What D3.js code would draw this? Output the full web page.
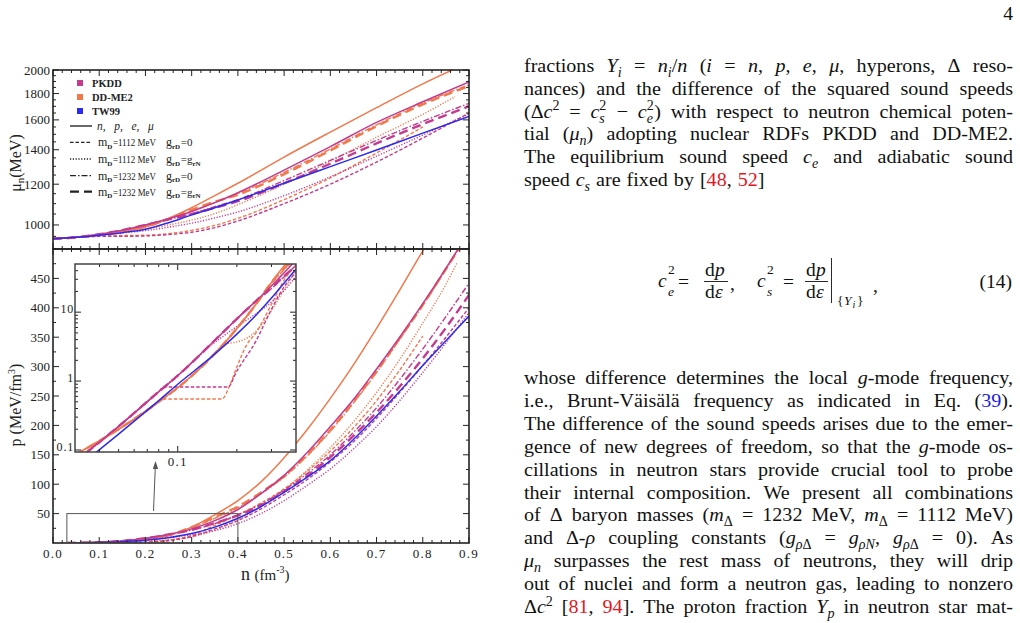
<!DOCTYPE html>
<html><head><meta charset="utf-8">
<script src="https://cdn.jsdelivr.net/npm/d3@7"></script>
<style>
body{margin:0;background:#fff;}
svg text{white-space:pre;}
</style></head><body>
<svg id="c" width="1020" height="623"></svg>
<script>
// ---------------- DATA ----------------
// top panel: neutron chemical potential mu_n (MeV) vs n (fm^-3)
const nMu = [0,0.05,0.1,0.15,0.2,0.25,0.3,0.35,0.4,0.5,0.6,0.7,0.8,0.9];
const nMuShort = [0,0.05,0.1,0.15,0.2,0.25,0.3,0.35,0.4,0.5,0.6,0.7,0.8];
const nMuDot = [0,0.05,0.1,0.15,0.2,0.25,0.3,0.35,0.4,0.5,0.6,0.7,0.8,0.87];
const muTW99 = [940,946,955,966,981,1010,1046,1080,1118,1205,1298,1398,1508,1625];
const muPKDD = [940,946,959,977,1000,1028,1062,1105,1155,1278,1420,1582,1735,1895];
const muDDME2 = [940,946,957,972,992,1030,1080,1140,1205,1355,1515,1690,1880,2070];
const muPKDD_1112_0 = [940,946,950,950,952,958,968,988,1018,1100,1200,1325,1475,1650];
const muPKDD_1112_N = [940,946,956,965,975,990,1008,1032,1060,1140,1240,1360,1495,1642];
const muPKDD_1232_0 = [940,946,959,977,1000,1025,1052,1085,1120,1220,1335,1460,1590,1723];
const muPKDD_1232_N = [940,946,959,977,1000,1025,1050,1080,1112,1205,1315,1440,1570,1700];
const muDDME2_1112_0 = [940,946,952,954,955,962,976,998,1030,1120,1235,1380,1550];
const muDDME2_1112_N = [940,946,957,970,982,1000,1022,1052,1095,1200,1330,1480,1640,1776];
const muDDME2_1232_0 = [940,946,957,972,992,1025,1065,1105,1150,1265,1405,1565,1725,1872];
const muDDME2_1232_N = [940,946,957,972,992,1028,1070,1110,1145,1255,1395,1555,1715,1862];

// bottom panel: pressure p (MeV/fm^3) vs n (fm^-3)
const nP = [0.03,0.05,0.08,0.1,0.15,0.2,0.25,0.3,0.35,0.4,0.45,0.5,0.55,0.6,0.65,0.7,0.75,0.8,0.85,0.9];
const pTW99 = [0.052,0.17,0.52,0.9,2.3,4.8,9,16,27,42,62,86,112,140,176,216,258,302,344,386];
const pPKDD = [0.068,0.22,0.70,1.2,3.6,8,14.5,24,38,57,84,115,154,198,244,296,350,407,467,530];
const pDDME2 = [0.085,0.2,0.5,0.8,2.3,5.8,13,27,48,72,104,145,193,246,303,365,430,497,565,640];
const nP_PKDD_1112_0 = [0.03,0.05,0.08,0.085,0.18,0.2,0.25,0.3,0.35,0.4,0.45,0.5,0.55,0.6,0.65,0.7,0.75,0.8,0.85,0.9];
const pPKDD_1112_0 = [0.068,0.22,0.70,0.82,0.82,1.4,3.8,11,24,38,58,82,108,138,172,212,256,302,350,400];
const pPKDD_1112_N = [0.068,0.22,0.70,1.2,3.4,6.2,9.5,14,21,33,50,72,98,126,160,198,242,290,340,392];
const pPKDD_1232_0 = [0.068,0.22,0.70,1.2,3.6,8,14.5,22,33,48,66,90,118,150,188,230,278,330,385,442];
const pPKDD_1232_N = [0.068,0.22,0.70,1.2,3.6,8,14.5,22.5,34,47,64,88,114,146,182,222,266,314,366,422];
const nP_DDME2_1112_0 = [0.03,0.05,0.08,0.083,0.168,0.185,0.2,0.225,0.25,0.3,0.35,0.4,0.45,0.5,0.55,0.6,0.65,0.7,0.75,0.8];
const pDDME2_1112_0 = [0.085,0.2,0.5,0.55,0.55,0.9,1.6,3.4,5,13,30,48,68,92,122,156,196,242,294,352];
const nP_DDME2_1112_N = [0.03,0.05,0.08,0.1,0.15,0.171,0.2,0.225,0.25,0.3,0.35,0.4,0.45,0.5,0.55,0.6,0.65,0.7,0.75,0.8,0.85,0.875];
const pDDME2_1112_N = [0.085,0.2,0.5,0.8,2.3,3.4,3.7,4.2,5.3,10.5,22,40,62,90,124,162,206,256,312,374,440,478];
const pDDME2_1232_0 = [0.085,0.2,0.5,0.8,2.3,5.8,13,26,42,60,84,112,148,190,238,290,346,404,465,528];
const pDDME2_1232_N = [0.085,0.2,0.5,0.8,2.3,5.8,13,27,44,62,86,114,150,192,240,292,348,405,466,528];

// ticks / labels
const xTickVals = [0,0.1,0.2,0.3,0.4,0.5,0.6,0.7,0.8,0.9];
const xTickLabels = ['0.0','0.1','0.2','0.3','0.4','0.5','0.6','0.7','0.8','0.9'];
const muTickVals = [1000,1200,1400,1600,1800,2000];
const pTickVals = [50,100,150,200,250,300,350,400,450];
const insetYTicks = [0.1,1,10];
const insetYLabels = ['0.1','1','10'];
const insetXTicks = [0.1];
const legendModels = ['PKDD','DD-ME2','TW99'];
const zoomBox = {n0:0.03, n1:0.4, p0:0, p1:50};

// ---------------- SETUP ----------------
const svg = d3.select('#c');
svg.append('rect').attr('width',1020).attr('height',623).attr('fill','#fff');
const SERIF = "'Liberation Serif','Times New Roman',serif";
const COL = {PKDD:'#c43a8e', DDME2:'#f2784b', TW99:'#2b2bf0'};
const STY = {
  solid:{dash:null,w:1.5},
  d1112_0:{dash:'3.5,2',w:1.4},
  d1112_N:{dash:'1.2,1.6',w:1.4},
  d1232_0:{dash:'6,2,1.5,2',w:1.4},
  d1232_N:{dash:'9,5',w:2.4}
};

const x = d3.scaleLinear().domain([0,0.9]).range([53,469]);
const yMu = d3.scaleLog().domain([898,2000]).range([249,70]);
const yP = d3.scaleLinear().domain([0,500]).range([543,249]);
const xi = d3.scaleLog().domain([0.03,0.4]).range([75,296]);
const yi = d3.scaleLog().domain([0.0935,50]).range([452,264]);

const defs = svg.append('defs');
function clip(id,x0,y0,x1,y1){defs.append('clipPath').attr('id',id).append('rect').attr('x',x0).attr('y',y0).attr('width',x1-x0).attr('height',y1-y0);}
clip('cTop',x(0),yMu(2000),x(0.9),yMu(898));
clip('cBot',x(0),yP(500),x(0.9),yP(0));
clip('cIn',xi(0.03),yi(50),xi(0.4),yi(0.0935));

const muSeries = [
  {c:'DDME2',s:'d1112_0',n:nMuShort,v:muDDME2_1112_0},
  {c:'DDME2',s:'d1112_N',n:nMuDot,v:muDDME2_1112_N},
  {c:'DDME2',s:'d1232_0',n:nMu,v:muDDME2_1232_0},
  {c:'DDME2',s:'d1232_N',n:nMu,v:muDDME2_1232_N},
  {c:'PKDD',s:'d1112_0',n:nMu,v:muPKDD_1112_0},
  {c:'PKDD',s:'d1112_N',n:nMu,v:muPKDD_1112_N},
  {c:'PKDD',s:'d1232_0',n:nMu,v:muPKDD_1232_0},
  {c:'PKDD',s:'d1232_N',n:nMu,v:muPKDD_1232_N},
  {c:'DDME2',s:'solid',n:nMu,v:muDDME2},
  {c:'PKDD',s:'solid',n:nMu,v:muPKDD},
  {c:'TW99',s:'solid',n:nMu,v:muTW99}
];
const pSeries = [
  {c:'DDME2',s:'d1112_0',n:nP_DDME2_1112_0,v:pDDME2_1112_0},
  {c:'DDME2',s:'d1112_N',n:nP_DDME2_1112_N,v:pDDME2_1112_N},
  {c:'DDME2',s:'d1232_0',n:nP,v:pDDME2_1232_0},
  {c:'DDME2',s:'d1232_N',n:nP,v:pDDME2_1232_N},
  {c:'PKDD',s:'d1112_0',n:nP_PKDD_1112_0,v:pPKDD_1112_0},
  {c:'PKDD',s:'d1112_N',n:nP,v:pPKDD_1112_N},
  {c:'PKDD',s:'d1232_0',n:nP,v:pPKDD_1232_0},
  {c:'PKDD',s:'d1232_N',n:nP,v:pPKDD_1232_N},
  {c:'DDME2',s:'solid',n:nP,v:pDDME2},
  {c:'PKDD',s:'solid',n:nP,v:pPKDD},
  {c:'TW99',s:'solid',n:nP,v:pTW99}
];

function drawSeries(g, list, sx, sy, clipId){
  const gg = g.append('g').attr('clip-path',`url(#${clipId})`);
  const line = d3.line().x(d=>sx(d[0])).y(d=>sy(d[1])).curve(d3.curveMonotoneX);
  list.forEach(s=>{
    const pts = s.n.map((n,i)=>[n,s.v[i]]);
    gg.append('path').attr('d',line(pts)).attr('fill','none')
      .attr('stroke',COL[s.c]).attr('stroke-width',STY[s.s].w)
      .attr('stroke-dasharray',STY[s.s].dash);
  });
}

function ticks(g, vals, sc, axis, pos, dir, len){
  g.selectAll(null).data(vals).join('line')
    .attr(axis==='x'?'x1':'y1',d=>sc(d)).attr(axis==='x'?'x2':'y2',d=>sc(d))
    .attr(axis==='x'?'y1':'x1',pos).attr(axis==='x'?'y2':'x2',pos+dir*len)
    .attr('stroke','#222').attr('stroke-width',1);
}
const xMinor = d3.range(46).map(i=>i*0.02).filter((d,i)=>i%5!==0);

// ---------------- TOP PANEL ----------------
const gTop = svg.append('g');
drawSeries(gTop, muSeries, x, yMu, 'cTop');
ticks(gTop, xTickVals, x, 'x', yMu(2000), 1, 6);
ticks(gTop, xMinor, x, 'x', yMu(2000), 1, 3);
ticks(gTop, xTickVals, x, 'x', yMu(898), -1, 6);
ticks(gTop, xMinor, x, 'x', yMu(898), -1, 3);
const muMinor = d3.range(900,2000,50).filter(d=>!muTickVals.includes(d));
[[x(0),1],[x(0.9),-1]].forEach(([px,dir])=>{
  ticks(gTop, muTickVals, yMu, 'y', px, dir, 6);
  ticks(gTop, muMinor, yMu, 'y', px, dir, 3);
});
gTop.selectAll(null).data(muTickVals).join('text')
  .attr('x',50).attr('y',d=>yMu(d)+4.5).attr('text-anchor','end')
  .attr('font-family',SERIF).attr('font-size',13).attr('fill','#222').text(d=>d);
gTop.append('rect').attr('x',x(0)).attr('y',yMu(2000)).attr('width',x(0.9)-x(0)).attr('height',yMu(898)-yMu(2000))
  .attr('fill','none').attr('stroke','#222').attr('stroke-width',1.6);
// y title
const muT = gTop.append('text').attr('transform','translate(21,163) rotate(-90)').attr('text-anchor','middle')
  .attr('font-family',SERIF).attr('font-size',16).attr('fill','#222');
muT.append('tspan').text('μ');
muT.append('tspan').attr('font-size',11).attr('dy',3).text('n');
muT.append('tspan').attr('dy',-3).text('(MeV)');

// legend
const colKeys = ['PKDD','DDME2','TW99'];
legendModels.forEach((m,i)=>{
  const yy = 83 + i*14;
  gTop.append('rect').attr('x',77).attr('y',yy-3).attr('width',6).attr('height',6).attr('fill',COL[colKeys[i]]);
  gTop.append('text').attr('x',92).attr('y',yy+4).attr('font-family',SERIF).attr('font-weight','bold')
    .attr('font-size',10.5).attr('fill','#222').text(m);
});
const legRows = [
  {s:'solid'},{s:'d1112_0',m:'=1112 MeV',g:'0'},{s:'d1112_N',m:'=1112 MeV',g:'N'},
  {s:'d1232_0',m:'=1232 MeV',g:'0'},{s:'d1232_N',m:'=1232 MeV',g:'N'}
];
const legY = [126,142.3,159,175.7,191.7];
legRows.forEach((r,i)=>{
  const yy = legY[i];
  gTop.append('line').attr('x1',70).attr('x2',92).attr('y1',yy).attr('y2',yy)
    .attr('stroke','#222').attr('stroke-width',STY[r.s].w*0.9).attr('stroke-dasharray',STY[r.s].dash);
  if(r.s==='solid'){
    gTop.append('text').attr('x',97).attr('y',yy+4).attr('font-family',SERIF).attr('font-style','italic')
      .attr('font-size',11.5).attr('fill','#222').text('n,   p,   e,   μ');
    return;
  }
  let cx;
  const t = (txt,fs,sub,opt={})=>{
    const e=gTop.append('text').attr('x',cx).attr('y',yy+(sub?6.5:4)).attr('font-family',SERIF)
      .attr('font-size',fs).attr('fill','#222').text(txt);
    if(sub) e.attr('font-weight','bold');
    if(opt.L) e.attr('textLength',opt.L).attr('lengthAdjust','spacingAndGlyphs');
    cx += opt.L || e.node().getComputedTextLength();
  };
  cx = 98; t('m',12); t('D',7,1); cx += 0.5; t(r.m,11,0,{L:43});
  cx = 166; t('g',12); t('rD',7,1); cx += 0.5;
  if(r.g==='0') t('=0',11);
  else { t('=g',11); t('rN',7,1); }
});

// ---------------- BOTTOM PANEL ----------------
const gBot = svg.append('g');
drawSeries(gBot, pSeries, x, yP, 'cBot');
const pMinor = d3.range(25,500,50);
ticks(gBot, xTickVals, x, 'x', yP(0), -1, 6);
ticks(gBot, xMinor, x, 'x', yP(0), -1, 3);
ticks(gBot, xTickVals, x, 'x', yP(500), 1, 6);
ticks(gBot, xMinor, x, 'x', yP(500), 1, 3);
[[x(0),1],[x(0.9),-1]].forEach(([px,dir])=>{
  ticks(gBot, pTickVals, yP, 'y', px, dir, 6);
  ticks(gBot, pMinor, yP, 'y', px, dir, 3);
});
gBot.selectAll(null).data(pTickVals).join('text')
  .attr('x',50).attr('y',d=>yP(d)+4.5).attr('text-anchor','end')
  .attr('font-family',SERIF).attr('font-size',13).attr('fill','#222').text(d=>d);
gBot.selectAll(null).data(xTickVals).join('text')
  .attr('x',d=>x(d)).attr('y',558).attr('text-anchor','middle').attr('letter-spacing',1.2)
  .attr('font-family',SERIF).attr('font-size',13).attr('fill','#222').text((d,i)=>xTickLabels[i]);
gBot.append('rect').attr('x',x(0)).attr('y',yP(500)).attr('width',x(0.9)-x(0)).attr('height',yP(0)-yP(500))
  .attr('fill','none').attr('stroke','#222').attr('stroke-width',1.6);
const pT = gBot.append('text').attr('transform','translate(21,405) rotate(-90)').attr('text-anchor','middle')
  .attr('font-family',SERIF).attr('font-size',16).attr('fill','#222');
pT.append('tspan').text('p (MeV/fm');
pT.append('tspan').attr('font-size',10).attr('dy',-6).text('3');
pT.append('tspan').attr('dy',6).text(')');
const nT = gBot.append('text').attr('x',241).attr('y',580).attr('font-family',SERIF).attr('fill','#222');
nT.append('tspan').attr('font-size',18).text('n ');
nT.append('tspan').attr('font-size',15).text('(fm');
nT.append('tspan').attr('font-size',10).attr('dy',-7).text('-3');
nT.append('tspan').attr('font-size',15).attr('dy',7).text(')');

// zoom rectangle + arrow
gBot.append('rect').attr('x',x(zoomBox.n0)).attr('y',yP(zoomBox.p1))
  .attr('width',x(zoomBox.n1)-x(zoomBox.n0)).attr('height',yP(zoomBox.p0)-yP(zoomBox.p1))
  .attr('fill','none').attr('stroke','#555').attr('stroke-width',1);
gBot.append('line').attr('x1',153.5).attr('y1',511).attr('x2',155.3).attr('y2',467).attr('stroke','#555').attr('stroke-width',1);
gBot.append('path').attr('d','M155.5,461 L152.8,469 L158.2,469 Z').attr('fill','#555');

// ---------------- INSET ----------------
const gIn = svg.append('g');
gIn.append('rect').attr('x',xi(0.03)).attr('y',yi(50)).attr('width',xi(0.4)-xi(0.03)).attr('height',yi(0.0935)-yi(50)).attr('fill','#fff');
drawSeries(gIn, pSeries, xi, yi, 'cIn');
const inXMinor = [0.04,0.05,0.06,0.07,0.08,0.09,0.2,0.3];
const inYMinor = [0.2,0.3,0.4,0.5,0.6,0.7,0.8,0.9,2,3,4,5,6,7,8,9,20,30,40];
[[yi(0.0935),-1],[yi(50),1]].forEach(([py,dir])=>{
  ticks(gIn, insetXTicks, xi, 'x', py, dir, 6);
  ticks(gIn, inXMinor, xi, 'x', py, dir, 3);
});
[[xi(0.03),1],[xi(0.4),-1]].forEach(([px,dir])=>{
  ticks(gIn, insetYTicks, yi, 'y', px, dir, 6);
  ticks(gIn, inYMinor, yi, 'y', px, dir, 3);
});
gIn.append('rect').attr('x',xi(0.03)).attr('y',yi(50)).attr('width',xi(0.4)-xi(0.03)).attr('height',yi(0.0935)-yi(50))
  .attr('fill','none').attr('stroke','#444').attr('stroke-width',1.5);
gIn.selectAll(null).data(insetYTicks).join('text')
  .attr('x',74).attr('y',d=>yi(d)+1).attr('text-anchor','end').attr('letter-spacing',0.8)
  .attr('font-family',SERIF).attr('font-size',12).attr('fill','#222').text((d,i)=>insetYLabels[i]);
gIn.append('text').attr('x',xi(0.1)).attr('y',466).attr('text-anchor','middle').attr('letter-spacing',1.2)
  .attr('font-family',SERIF).attr('font-size',13).attr('fill','#222').text('0.1');

// ---------------- RIGHT COLUMN TEXT ----------------
const FS = 19.5, XL = 524, XR = 1013, SX = 1.03;
const gT = svg.append('g').attr('font-family',SERIF).attr('fill','#111');
gT.append('text').attr('x',1013).attr('y',20).attr('text-anchor','end').attr('font-size',FS).text('4');

function parseRich(str){
  const out=[]; let it=false;
  function parse(s, mode, color){
    let i=0;
    while(i<s.length){
      const ch=s[i];
      if(ch==='$'){it=!it;i++;continue;}
      if(ch==='_'||ch==='^'){
        const m = ch==='_'?'sub':'sup'; i++;
        let grp;
        if(s[i]==='{'){const j=s.indexOf('}',i);grp=s.slice(i+1,j);i=j+1;}
        else {grp=s[i];i++;}
        parse(grp,m,color); continue;
      }
      if(ch==='~'){out.push({t:s[i+1],t2:s[i+2],mode:'ss',color});i+=3;continue;}
      if(ch==='@'){
        const c = s[i+1]==='r'?'#e8141c':'#1a1ae6';
        const j=s.indexOf('}',i); parse(s.slice(i+3,j),mode,c); i=j+1; continue;
      }
      let j=i, txt='';
      while(j<s.length && !'$_^~@'.includes(s[j])){txt+=s[j];j++;}
      out.push({t:txt,mode,it,color});
      i=j;
    }
  }
  parse(str,'n',null);
  return out;
}
const L = e=>e.node().getComputedTextLength();
function drawWord(g, word){
  const wg = g.append('g'); const inner = wg.append('g').attr('transform',`scale(${SX},1)`); let cx=0;
  parseRich(word).forEach(p=>{
    if(p.mode==='ss'){
      const a=inner.append('text').attr('x',cx).attr('y',-7.5).attr('font-size',FS*0.7).text(p.t);
      const b=inner.append('text').attr('x',cx).attr('y',5).attr('font-size',FS*0.7).attr('font-style','italic').text(p.t2);
      cx+=Math.max(L(a),L(b))+0.5; return;
    }
    const e=inner.append('text').attr('x',cx).attr('y',p.mode==='sub'?5:p.mode==='sup'?-7.5:0)
      .attr('font-size',p.mode==='n'?FS:FS*0.7).attr('font-style',p.it?'italic':'normal')
      .attr('fill',p.color||'#111').text(p.t);
    cx+=L(e);
  });
  return {wg,w:cx*SX};
}
function drawLine(str, y, justify){
  const g = gT.append('g');
  const ws = str.split(' ').map(w=>drawWord(g,w));
  const tot = d3.sum(ws,d=>d.w);
  const gap = justify ? Math.max(2,(XR-XL-tot)/(ws.length-1)) : 6;
  let cx = XL;
  ws.forEach(d=>{d.wg.attr('transform',`translate(${cx},${y})`); cx+=d.w+gap;});
}
const para1 = [
  'fractions $Y_i$ = $n_i$/$n$ ($i$ = $n$, $p$, $e$, $μ$, hyperons, Δ reso-',
  'nances) and the difference of the squared sound speeds',
  '(Δ$c$^2 = $c$~2s − $c$~2e) with respect to neutron chemical poten-',
  'tial ($μ_n$) adopting nuclear RDFs PKDD and DD-ME2.',
  'The equilibrium sound speed $c_e$ and adiabatic sound',
  'speed $c_s$ are fixed by [@r{48}, @r{52}]'
];
para1.forEach((s,i)=>drawLine(s, 71.7+i*22.9, i<5));
const para2 = [
  'whose difference determines the local $g$-mode frequency,',
  'i.e., Brunt-Väisälä frequency as indicated in Eq. (@b{39}).',
  'The difference of the sound speeds arises due to the emer-',
  'gence of new degrees of freedom, so that the $g$-mode os-',
  'cillations in neutron stars provide crucial tool to probe',
  'their internal composition. We present all combinations',
  'of Δ baryon masses ($m$_Δ = 1232 MeV, $m$_Δ = 1112 MeV)',
  'and Δ-$ρ$ coupling constants ($g$_{$ρ$Δ} = $g_{ρN}$, $g$_{$ρ$Δ} = 0). As',
  '$μ_n$ surpasses the rest mass of neutrons, they will drip',
  'out of nuclei and form a neutron gas, leading to nonzero',
  'Δ$c$^2 [@r{81}, @r{94}]. The proton fraction $Y_p$ in neutron star mat-'
];
para2.forEach((s,i)=>drawLine(s, 384+i*22.9, true));

// equation (14)
const eq = gT.append('g');
const et = (xx,yy,txt,fs,it)=>eq.append('text').attr('x',xx).attr('y',yy).attr('font-size',fs).attr('font-style',it?'italic':'normal').text(txt);
et(658,287,'c',FS,1); et(668,274,'2',13.5); et(668,296,'e',13.5,1);
et(678,288,'=',FS);
et(705,276,'d',FS); et(715,276,'p',FS,1);
eq.append('line').attr('x1',704).attr('x2',728).attr('y1',281.5).attr('y2',281.5).attr('stroke','#111').attr('stroke-width',0.9);
et(705,298,'d',FS); et(715,298,'ε',FS,1);
et(730,290,',',FS);
et(757,287,'c',FS,1); et(767,274,'2',13.5); et(767,296,'s',13.5,1);
et(783,288,'=',FS);
et(806,276,'d',FS); et(816,276,'p',FS,1);
eq.append('line').attr('x1',805).attr('x2',828).attr('y1',281.5).attr('y2',281.5).attr('stroke','#111').attr('stroke-width',0.9);
et(806,298,'d',FS); et(816,298,'ε',FS,1);
eq.append('line').attr('x1',831.5).attr('x2',831.5).attr('y1',258).attr('y2',303).attr('stroke','#111').attr('stroke-width',0.9);
et(837,305,'{',13.5); et(844,305,'Y',13.5,1); et(852.5,308,'i',10,1); et(857,305,'}',13.5);
et(873,292,',',FS);
gT.append('text').attr('x',1012).attr('y',288).attr('text-anchor','end').attr('font-size',FS).text('(14)');
</script></body></html>
